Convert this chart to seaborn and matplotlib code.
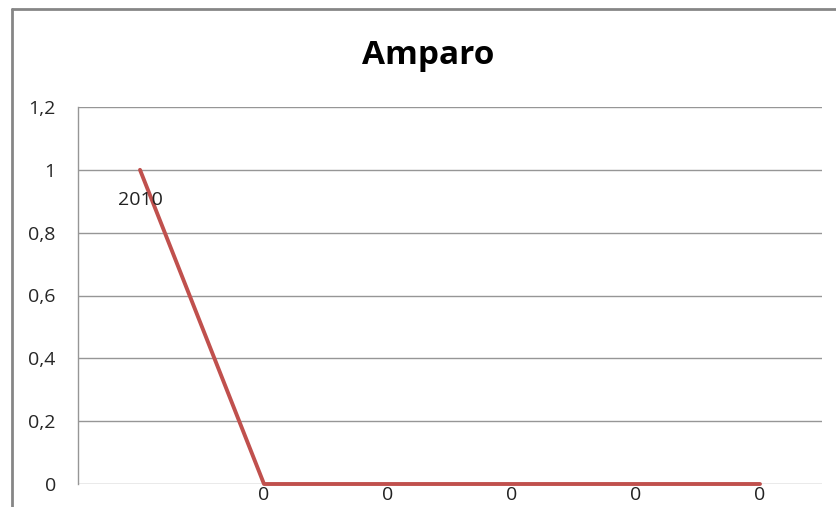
import numpy as np
import pandas as pd
import matplotlib
matplotlib.use('Agg')
import matplotlib.pyplot as plt
import seaborn as sns
from matplotlib.lines import Line2D

# datos
puntos = [1, 2, 3, 4, 5, 6]
valores = [1, 0, 0, 0, 0, 0]
etiquetas = ['2010', '0', '0', '0', '0', '0']
y_ticks = [0, 0.2, 0.4, 0.6, 0.8, 1.0, 1.2]
y_labels = ['0', '0,2', '0,4', '0,6', '0,8', '1', '1,2']

sns.set_style('white')
plt.rcParams['font.family'] = ['Open Sans', 'DejaVu Sans']

df = pd.DataFrame({'x': puntos, 'y': valores})

fig = plt.figure(figsize=(8.36, 5.07), dpi=100)
ax = fig.add_axes([78 / 836, 1 - 484 / 507, (822 - 78) / 836, (484 - 107) / 507])

sns.lineplot(data=df, x='x', y='y', ax=ax, color='#C0504D', linewidth=2.8, clip_on=False)

ax.set_xlim(0.5, 6.5)
ax.set_ylim(0, 1.2)
ax.set_yticks(y_ticks)
ax.set_yticklabels(y_labels, fontsize=14)
ax.set_xticks([])
ax.tick_params(axis='y', length=0, pad=16)
ax.set_xlabel('')
ax.set_ylabel('')
ax.grid(axis='y', color='#969696', linewidth=1)
ax.set_axisbelow(True)
for s in ['top', 'right', 'bottom']:
    ax.spines[s].set_visible(False)
ax.spines['left'].set_color('#969696')
ax.spines['left'].set_linewidth(1)

# etiquetas de datos
for i, (xv, yv, lab) in enumerate(zip(puntos, valores, etiquetas)):
    dy = -22 if i == 0 else -8
    ax.annotate(lab, (xv, yv), xytext=(0, dy), textcoords='offset points',
                ha='center', va='center', fontsize=14, color='#222222',
                annotation_clip=False)

# titulo
fig.text(428 / 836, 1 - 56 / 507, 'Amparo', ha='center', va='center',
         fontsize=24, fontweight='bold', color='black')

# marco del grafico
fig.add_artist(Line2D([12 / 836, 12 / 836], [0, 1 - 9 / 507], transform=fig.transFigure,
                      color='#868686', linewidth=2))
fig.add_artist(Line2D([12 / 836, 1], [1 - 9 / 507, 1 - 9 / 507], transform=fig.transFigure,
                      color='#868686', linewidth=2))

fig.savefig('out.png', dpi=100)
